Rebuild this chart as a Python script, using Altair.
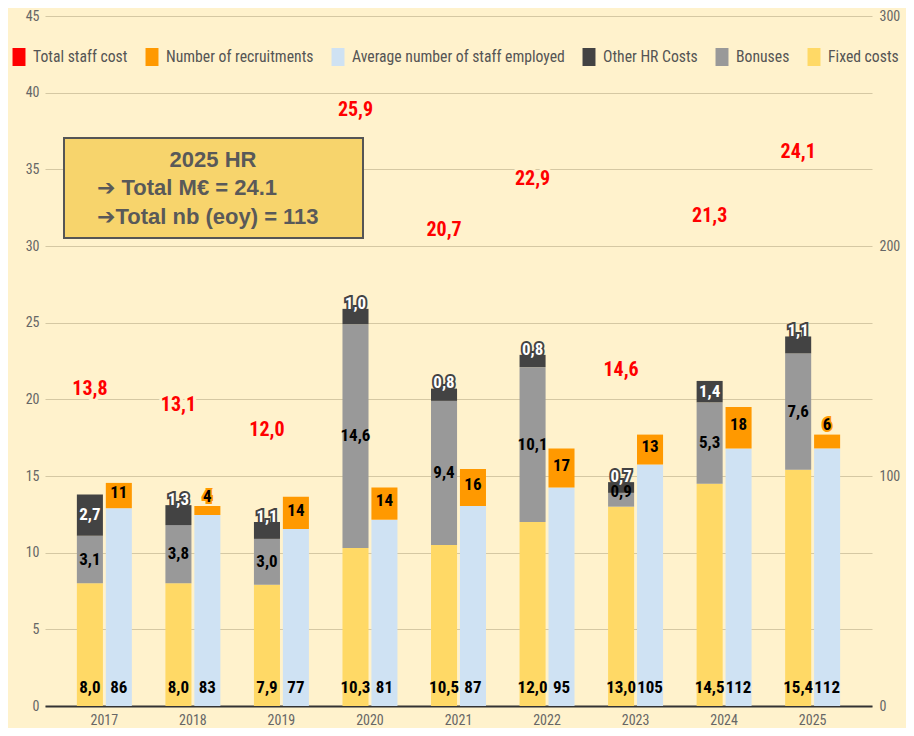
import altair as alt
import pandas as pd

# ---------------- data ----------------
years = ["2017", "2018", "2019", "2020", "2021", "2022", "2023", "2024", "2025"]
fixed_costs = [8.0, 8.0, 7.9, 10.3, 10.5, 12.0, 13.0, 14.5, 15.4]
bonuses = [3.1, 3.8, 3.0, 14.6, 9.4, 10.1, 0.9, 5.3, 7.6]
other_hr = [2.7, 1.3, 1.1, 1.0, 0.8, 0.8, 0.7, 1.4, 1.1]
total_cost = [13.8, 13.1, 12.0, 25.9, 20.7, 22.9, 14.6, 21.3, 24.1]
avg_staff = [86, 83, 77, 81, 87, 95, 105, 112, 112]
recruitments = [11, 4, 14, 14, 16, 17, 13, 18, 6]

series_names = ["Total staff cost", "Number of recruitments",
                "Average number of staff employed", "Other HR Costs",
                "Bonuses", "Fixed costs"]
series_colors = ["#FF0000", "#FF9900", "#CFE2F3", "#434343", "#999999", "#FFD966"]

box_title = "2025 HR"
box_lines = ["\u2794 Total M\u20ac = 24.1", "\u2794Total nb (eoy) = 113"]

BG = "#FFF2CC"
NARROW = "Roboto Condensed, Liberation Sans Narrow, DejaVu Sans Condensed, sans-serif"
ARIAL = "Liberation Sans, Arial, DejaVu Sans, sans-serif"


def fmt1(v):
    return f"{v:.1f}".replace(".", ",")


# long tables
cost_rows = []
for i, y in enumerate(years):
    for ordv, (name, vals) in enumerate([("Fixed costs", fixed_costs),
                                         ("Bonuses", bonuses),
                                         ("Other HR Costs", other_hr)]):
        cost_rows.append({"year": y, "series": name, "value": vals[i],
                          "ord": ordv, "grp": "cost"})
cost_df = pd.DataFrame(cost_rows)

staff_rows = []
for i, y in enumerate(years):
    for ordv, (name, vals) in enumerate([("Average number of staff employed", avg_staff),
                                         ("Number of recruitments", recruitments)]):
        staff_rows.append({"year": y, "series": name, "value": vals[i],
                           "ord": ordv, "grp": "staff"})
staff_df = pd.DataFrame(staff_rows)

cost_lab = pd.DataFrame({
    "year": years,
    "grp": "cost",
    "fixed": fixed_costs,
    "bonus": bonuses,
    "other": other_hr,
    "total": total_cost,
    "fixed_lab": [fmt1(v) for v in fixed_costs],
    "bonus_lab": [fmt1(v) for v in bonuses],
    "other_lab": [fmt1(v) for v in other_hr],
    "total_lab": [fmt1(v) for v in total_cost],
})
staff_lab = pd.DataFrame({
    "year": years,
    "grp": "staff",
    "staff": avg_staff,
    "recr": recruitments,
    "staff_lab": [str(v) for v in avg_staff],
    "recr_lab": [str(v) for v in recruitments],
})

# ---------------- encodings ----------------
x_enc = alt.X("year:N", sort=years,
              scale=alt.Scale(paddingInner=0.379, paddingOuter=0.36),
              axis=alt.Axis(title=None, labelAngle=0))
xo_enc = alt.XOffset("grp:N", scale=alt.Scale(domain=["cost", "staff"], paddingInner=0.1))

legend = alt.Legend(orient="none", legendX=-35, legendY=32, direction="horizontal",
                    title=None, symbolType="M-0.72,-1H0.72V1H-0.72Z",
                    symbolSize=324, symbolStrokeWidth=0, symbolOpacity=1,
                    labelFont=NARROW, labelFontSize=15.7, labelColor="#555555",
                    labelOffset=5, columnPadding=15, labelLimit=400)
color_enc = alt.Color("series:N",
                      scale=alt.Scale(domain=series_names, range=series_colors),
                      legend=legend)

yl_scale = alt.Scale(domain=[0, 45], nice=False, zero=True)
yr_scale = alt.Scale(domain=[0, 300], nice=False, zero=True)
left_axis = alt.Axis(orient="left", title=None, values=list(range(0, 46, 5)))
right_axis = alt.Axis(orient="right", title=None, values=[0, 100, 200, 300])

LAB = dict(font=NARROW, fontWeight="bold", fontSize=17)

# ---------------- left (costs) ----------------
cost_bars = alt.Chart(cost_df).mark_bar().encode(
    x=x_enc, xOffset=xo_enc,
    y=alt.Y("value:Q", stack="zero", scale=yl_scale, axis=left_axis),
    color=color_enc,
    order=alt.Order("ord:Q"),
)

lab_base = alt.Chart(cost_lab).encode(x=alt.X("year:N", sort=years), xOffset="grp:N")

fixed_text = lab_base.mark_text(color="#000000", baseline="bottom", dy=-9, **LAB).encode(
    y=alt.Y(datum=0, scale=yl_scale, axis=left_axis), text="fixed_lab:N")

bonus_text = lab_base.transform_calculate(
    pos="datum.bonus < 1.4 ? datum.fixed + datum.bonus + 0.05 : datum.fixed + datum.bonus / 2"
).mark_text(color="#000000", baseline="middle", **LAB).encode(
    y=alt.Y("pos:Q", scale=yl_scale, axis=left_axis), text="bonus_lab:N")

other_base = lab_base.transform_calculate(
    pos="datum.other < 1.4 ? datum.fixed + datum.bonus + datum.other + 0.35"
        " : datum.fixed + datum.bonus + datum.other / 2")
other_halo = other_base.mark_text(
    color="#434343", stroke="#434343", strokeWidth=4, baseline="middle", **LAB).encode(
    y=alt.Y("pos:Q", scale=yl_scale, axis=left_axis), text="other_lab:N")
other_text = other_base.mark_text(
    color="#FFFFFF", baseline="middle", **LAB).encode(
    y=alt.Y("pos:Q", scale=yl_scale, axis=left_axis), text="other_lab:N")

# total staff cost is plotted on the secondary scale (x10) -> 1.5x on the primary
total_base = lab_base.transform_calculate(pos="datum.total * 1.5")
total_halo = total_base.mark_text(
    font=NARROW, fontWeight="bold", fontSize=20, color=BG, stroke=BG,
    strokeWidth=6, baseline="middle").encode(
    y=alt.Y("pos:Q", scale=yl_scale, axis=left_axis), text="total_lab:N")
total_text = total_base.mark_text(
    font=NARROW, fontWeight="bold", fontSize=20, color="#FF0000",
    baseline="middle").encode(
    y=alt.Y("pos:Q", scale=yl_scale, axis=left_axis), text="total_lab:N")

# annotation box
box_df = pd.DataFrame({"t": [box_title]})
box_rect = alt.Chart(box_df).mark_rect(
    fill="#F7D46C", stroke="#555555", strokeWidth=2).encode(
    x=alt.value(19), x2=alt.value(318), y=alt.value(122), y2=alt.value(222))
box_title_t = alt.Chart(box_df).mark_text(
    font=ARIAL, fontWeight="bold", fontSize=22,
    color="#595959", align="center", baseline="middle").encode(
    x=alt.value(168), y=alt.value(144), text="t:N")
box_lines_df = pd.DataFrame({"t": ["\n".join(box_lines)]})
box_lines_t = alt.Chart(box_lines_df).mark_text(
    font=ARIAL, fontWeight="bold", fontSize=22, color="#595959", align="left",
    baseline="middle", lineBreak="\n", lineHeight=29).encode(
    x=alt.value(52), y=alt.value(172), text="t:N")

left = alt.layer(cost_bars, fixed_text, bonus_text, other_halo, other_text,
                 total_halo, total_text, box_rect, box_title_t, box_lines_t)

# ---------------- right (staff) ----------------
staff_bars = alt.Chart(staff_df).mark_bar().encode(
    x=alt.X("year:N", sort=years), xOffset="grp:N",
    y=alt.Y("value:Q", stack="zero", scale=yr_scale, axis=right_axis),
    color=color_enc,
    order=alt.Order("ord:Q"),
)
slab_base = alt.Chart(staff_lab).encode(x=alt.X("year:N", sort=years), xOffset="grp:N")
staff_text = slab_base.mark_text(color="#000000", baseline="bottom", dy=-9, **LAB).encode(
    y=alt.Y(datum=0, scale=yr_scale, axis=right_axis), text="staff_lab:N")
recr_base = slab_base.transform_calculate(
    pos="datum.recr < 8 ? datum.staff + datum.recr + 4 : datum.staff + datum.recr / 2 + 1")
recr_halo = recr_base.mark_text(
    color="#FF9900", stroke="#FF9900", strokeWidth=4, baseline="middle", **LAB).encode(
    y=alt.Y("pos:Q", scale=yr_scale, axis=right_axis), text="recr_lab:N")
recr_text = recr_base.mark_text(color="#000000", baseline="middle", **LAB).encode(
    y=alt.Y("pos:Q", scale=yr_scale, axis=right_axis), text="recr_lab:N")

right = alt.layer(staff_bars, staff_text, recr_halo, recr_text)

chart = alt.layer(left, right).resolve_scale(y="independent").properties(
    width=827, height=690,
    autosize=alt.AutoSizeParams(type="none"),
    padding={"left": 37, "top": 8, "right": 34, "bottom": 22},
    background=BG,
).configure_view(stroke=None).configure_axis(
    labelFont=NARROW, labelFontSize=14, labelColor="#666666",
    ticks=False, domain=False, grid=False,
).configure_axisLeft(
    grid=True, gridColor="#D5C8A3", gridWidth=1.2, labelPadding=6,
).configure_axisRight(
    labelPadding=7,
).configure_axisX(
    domain=True, domainColor="#333333", domainWidth=2, labelPadding=7,
    labelFontSize=14,
)

chart.save("out.html", embed_options={"renderer": "svg", "actions": False})
